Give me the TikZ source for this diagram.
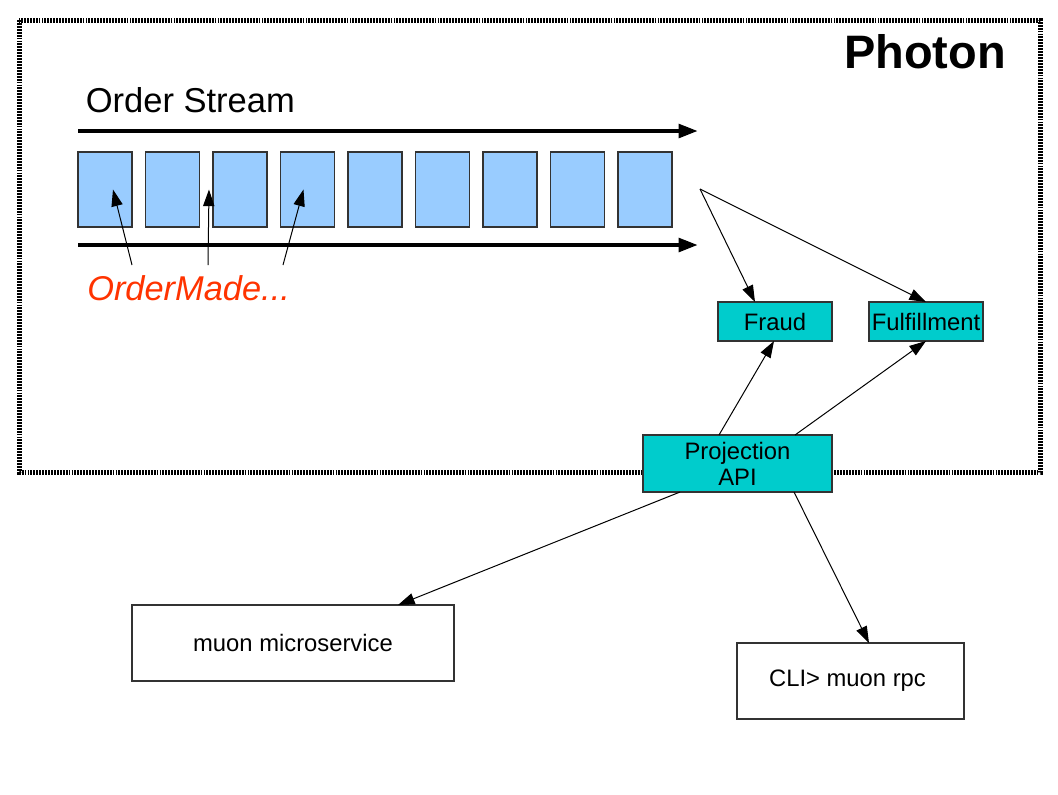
\documentclass[tikz,border=0pt]{standalone}
\usepackage{fontspec}
\setmainfont{Liberation Sans}
\usetikzlibrary{arrows.meta}

% one unit = one pixel of the 1058 x 794 canvas
\def\pxu{0.75pt}

\definecolor{cellblue}{HTML}{99CCFF}
\definecolor{svcteal}{HTML}{00CCCC}
\definecolor{evtred}{HTML}{FF3300}
\definecolor{edgegrey}{HTML}{333333}

\tikzset{
  cell/.style={draw=edgegrey, line width=0.9pt, fill=cellblue,
    minimum width=54*\pxu, minimum height=75*\pxu, inner sep=0pt, outer sep=0pt},
  svc/.style={draw=edgegrey, line width=0.8pt, fill=svcteal, inner sep=0pt, outer sep=0pt,
    font=\fontsize{17.85}{19.5}\selectfont, align=center},
  client/.style={draw=edgegrey, line width=0.8pt, fill=white, inner sep=0pt, outer sep=0pt,
    font=\fontsize{17.85}{19.5}\selectfont},
  streamarrow/.style={line width=3.2pt, -{Triangle[length=14.5pt, width=10pt]}},
  link/.style={line width=0.75pt, -{Triangle[length=12.5pt, width=8.5pt]}},
  frame/.style={line width=3.75pt, dash pattern=on 1.4pt off 0.8pt},
}

\begin{document}
\begin{tikzpicture}[x=0.75pt, y=-0.75pt]
  \useasboundingbox (0,0) rectangle (1058,794);

  % dotted boundary of the Photon system
  \draw[frame] (19,20) rectangle (1040,472);

  \node[anchor=base east, inner sep=0pt, font=\fontsize{35.2}{40}\selectfont\bfseries]
    (title) at (1006,68) {Photon};
  \node[anchor=base west, inner sep=0pt, font=\fontsize{25.9}{30}\selectfont]
    (streamlabel) at (85.5,112) {Order Stream};

  % the stream rails
  \coordinate (railAs) at (78,131);
  \coordinate (railAe) at (698,131);
  \coordinate (railBs) at (78,245);
  \coordinate (railBe) at (698,245);
  \draw[streamarrow] (railAs) -- (railAe);
  \draw[streamarrow] (railBs) -- (railBe);

  % events in the stream
  \foreach \i in {1,...,9} {
    \node[cell] (c\i) at ({105+67.5*(\i-1)},189.5) {};
  }

  \node[anchor=base west, inner sep=0pt, text=evtred,
        font=\fontsize{25.8}{30}\selectfont\itshape]
    (made) at (87,300) {OrderMade...};
  \coordinate (madeA) at (132,265);
  \coordinate (madeB) at (208,265);
  \coordinate (madeC) at (283,265);
  \draw[link] (madeA) -- ([xshift=8*\pxu]c1.center);
  \draw[link] (madeB) -- ([xshift=-4*\pxu]c3.west);
  \draw[link] (madeC) -- ([xshift=-4*\pxu]c4.center);

  % consumers
  \node[svc, minimum width=114*\pxu, minimum height=39*\pxu] (fraud) at (775,321.5) {Fraud};
  \node[svc, minimum width=114*\pxu, minimum height=39*\pxu] (fulfil) at (926,321.5) {Fulfillment};
  \node[svc, minimum width=189*\pxu, minimum height=57*\pxu] (proj) at (737.5,463.5) {Projection\\API};

  \coordinate (split) at (700,189);
  \draw[link] (split) -- ([xshift=37*\pxu]fraud.north west);
  \draw[link] (split) -- (fulfil.north);

  \draw[link] ([xshift=76*\pxu]proj.north west) -- ([xshift=-1*\pxu]fraud.south);
  \draw[link] ([xshift=152*\pxu]proj.north west) -- (fulfil.south);

  % clients of the projection
  \node[client, minimum width=322*\pxu, minimum height=76*\pxu] (muon) at (293,643) {muon microservice};
  \node[client, minimum width=227*\pxu, minimum height=76*\pxu] (cli) at (850.5,681) {CLI> muon rpc\hspace*{4.5pt}};

  \draw[link] ([xshift=37*\pxu]proj.south west) -- ([xshift=266*\pxu]muon.north west);
  \draw[link] ([xshift=151*\pxu]proj.south west) -- ([xshift=132*\pxu]cli.north west);
\end{tikzpicture}
\end{document}
